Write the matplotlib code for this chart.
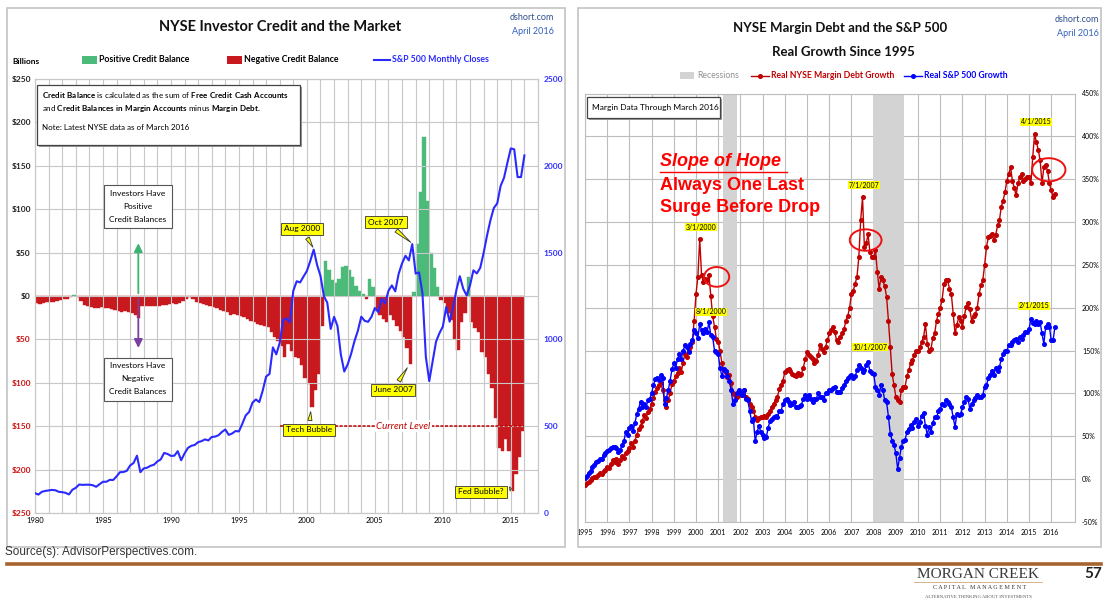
import numpy as np
import matplotlib
matplotlib.use("Agg")
import matplotlib.pyplot as plt
from matplotlib.patches import Rectangle, Ellipse
from matplotlib.lines import Line2D

plt.rcParams['font.family'] = ['Lato', 'DejaVu Sans']
plt.rcParams['mathtext.fontset'] = 'custom'
plt.rcParams['mathtext.rm'] = 'Lato'
plt.rcParams['mathtext.bf'] = 'Lato:bold'

# ---------------- DATA ----------------
# Left panel: quarterly samples from 1980 Q1 to 2015 Q4
credit_start = 1980.0
credit_balance = [
    -8, -9, -8, -7,       # 1980
    -7, -7, -6, -5,       # 1981
    -4, -3, -1, 1,        # 1982
    -1, -6, -10, -12,     # 1983
    -13, -14, -14, -13,   # 1984
    -14, -14, -15, -16,   # 1985
    -17, -18, -17, -19,   # 1986
    -20, -22, -25, -12,   # 1987
    -12, -11, -12, -11,   # 1988
    -11, -10, -10, -9,    # 1989
    -8, -9, -8, -6,       # 1990
    -3, -1, -4, -7,       # 1991
    -8, -9, -10, -12,     # 1992
    -13, -14, -16, -17,   # 1993
    -19, -22, -21, -22,   # 1994
    -23, -24, -27, -29,   # 1995
    -30, -32, -33, -34,   # 1996
    -36, -42, -47, -52,   # 1997
    -58, -70, -55, -63,   # 1998
    -70, -72, -80, -95,   # 1999
    -101, -128, -108, -90,  # 2000
    -35, 40, 30, 18,      # 2001
    15, 20, 33, 35,       # 2002
    30, 22, 12, 6,        # 2003
    2, -3, 20, 10,        # 2004
    -16, -22, -27, -30,   # 2005
    -22, -28, -35, -40,   # 2006
    -47, -60, -78, 5,     # 2007
    60, 120, 183, 110,    # 2008
    50, 32, 10, -5,       # 2009
    -8, -20, -28, -50,    # 2010
    -62, -30, -20, 22,    # 2011
    -30, -37, -42, -65,   # 2012
    -70, -90, -106, -140,   # 2013
    -175, -179, -165, -179,  # 2014
    -225, -205, -185, -155,  # 2015
]
sp500_closes = [
    114, 106, 122, 127,   # 1980
    130, 133, 131, 122,   # 1981
    120, 116, 107, 134,   # 1982
    145, 164, 162, 163,   # 1983
    163, 160, 151, 166,   # 1984
    180, 180, 191, 190,   # 1985
    211, 235, 236, 243,   # 1986
    274, 288, 330, 235,   # 1987
    257, 261, 272, 278,   # 1988
    297, 309, 346, 340,   # 1989
    329, 330, 356, 304,   # 1990
    343, 375, 387, 392,   # 1991
    408, 414, 424, 418,   # 1992
    438, 440, 448, 467,   # 1993
    481, 450, 458, 472,   # 1994
    470, 514, 562, 582,   # 1995
    636, 654, 639, 705,   # 1996
    786, 801, 954, 914,   # 1997
    980, 1112, 1120, 1098,  # 1998
    1280, 1335, 1328, 1362,  # 1999
    1394, 1452, 1517, 1429,  # 2000
    1366, 1249, 1211, 1060,  # 2001
    1130, 1077, 912, 815,    # 2002
    856, 916, 990, 1050,     # 2003
    1131, 1107, 1101, 1130,  # 2004
    1181, 1157, 1234, 1207,  # 2005
    1280, 1311, 1277, 1378,  # 2006
    1438, 1482, 1455, 1549,  # 2007
    1379, 1386, 1267, 900,   # 2008
    760, 873, 987, 1036,     # 2009
    1074, 1187, 1102, 1183,  # 2010
    1286, 1364, 1292, 1253,  # 2011
    1312, 1398, 1380, 1412,  # 2012
    1498, 1598, 1686, 1757,  # 2013
    1783, 1884, 1931, 2018,  # 2014
    2100, 2095, 1935, 1935,  # 2015
    2060,                    # 2016
]
left_year_labels = ['1980', '1985', '1990', '1995', '2000', '2005', '2010', '2015']
credit_tick_values = [250, 200, 150, 100, 50, 0, -50, -100, -150, -200, -250]
sp_tick_values = [0, 500, 1000, 1500, 2000, 2500]
current_level = -150

# Right panel: monthly, Jan 1995 - Mar 2016 (percent real growth)
growth_start = 1995.0
margin_debt_growth = [
    -7, -5, -3, -1, 1, 3, 2, 5, 7, 6, 9, 11,                      # 1995
    14, 13, 18, 22, 20, 24, 18, 22, 27, 25, 30, 33,               # 1996
    36, 42, 38, 45, 52, 58, 62, 68, 75, 71, 78, 82,               # 1997
    88, 95, 102, 106, 110, 112, 104, 92, 84, 92, 100, 111,        # 1998
    115, 120, 124, 130, 125, 136, 146, 142, 150, 154, 160, 185,   # 1999
    216, 236, 280, 238, 230, 234, 232, 238, 214, 190, 178, 164,   # 2000
    160, 150, 135, 127, 125, 119, 122, 112, 100, 98, 96, 98,      # 2001
    100, 98, 104, 96, 94, 88, 84, 80, 73, 69, 71, 73,             # 2002
    72, 74, 73, 76, 80, 84, 88, 92, 96, 105, 110, 115,            # 2003
    125, 127, 128, 126, 123, 122, 120, 124, 121, 123, 130, 140,   # 2004
    148, 145, 143, 140, 135, 138, 145, 156, 152, 148, 154, 162,   # 2005
    170, 174, 178, 172, 162, 160, 166, 170, 175, 185, 190, 200,   # 2006
    216, 220, 228, 236, 259, 302, 329, 271, 275, 286, 265, 259,   # 2007
    259, 267, 242, 222, 236, 232, 225, 213, 185, 154, 123, 110,   # 2008
    96, 92, 90, 104, 108, 108, 120, 127, 135, 139, 145, 150,      # 2009
    150, 154, 160, 166, 181, 158, 150, 152, 165, 170, 185, 193,   # 2010
    200, 209, 228, 232, 232, 222, 216, 193, 170, 180, 189, 185,   # 2011
    178, 190, 201, 205, 198, 185, 190, 193, 200, 216, 226, 232,   # 2012
    250, 271, 282, 284, 286, 279, 285, 296, 302, 318, 325, 335,   # 2013
    348, 356, 364, 348, 340, 331, 345, 352, 356, 348, 350, 352,   # 2014
    352, 345, 376, 403, 393, 384, 372, 345, 364, 366, 360, 345,   # 2015
    337, 329, 333,                                                # 2016
]
sp500_growth = [
    1, 4, 7, 10, 14, 17, 20, 21, 24, 24, 28, 30,                  # 1995
    33, 34, 36, 37, 38, 36, 32, 34, 40, 44, 55, 52,               # 1996
    60, 62, 56, 66, 76, 82, 90, 84, 88, 84, 92, 94,               # 1997
    100, 110, 117, 118, 116, 121, 118, 88, 95, 104, 115, 128,     # 1998
    135, 130, 140, 146, 140, 150, 156, 154, 148, 158, 162, 174,   # 1999
    170, 165, 181, 174, 170, 175, 172, 183, 168, 166, 150, 148,   # 2000
    146, 130, 120, 128, 126, 120, 115, 104, 88, 92, 100, 104,     # 2001
    100, 98, 104, 94, 92, 80, 68, 70, 44, 55, 62, 55,             # 2002
    52, 48, 49, 60, 68, 70, 72, 74, 72, 80, 80, 88,               # 2003
    92, 94, 90, 86, 88, 90, 84, 84, 85, 87, 94, 98,               # 2004
    94, 98, 94, 90, 94, 94, 100, 96, 96, 92, 100, 100,            # 2005
    104, 104, 106, 108, 102, 102, 102, 106, 110, 114, 118, 120,   # 2006
    122, 118, 120, 127, 133, 130, 125, 127, 133, 137, 126, 124,   # 2007
    123, 108, 104, 98, 110, 104, 92, 90, 73, 53, 45, 40,          # 2008
    30, 12, 25, 38, 45, 46, 55, 58, 63, 60, 67, 70,               # 2009
    62, 67, 74, 77, 62, 52, 61, 55, 66, 72, 72, 79,               # 2010
    82, 88, 87, 92, 90, 88, 84, 72, 61, 76, 75, 76,               # 2011
    84, 90, 96, 94, 82, 88, 92, 95, 98, 96, 96, 98,               # 2012
    108, 110, 118, 122, 126, 122, 130, 126, 131, 140, 146, 150,   # 2013
    150, 156, 156, 160, 162, 164, 160, 166, 164, 168, 172, 172,   # 2014
    175, 187, 182, 181, 185, 181, 183, 170, 158, 178, 181, 178,   # 2015
    162, 162, 178,                                                # 2016
]
recessions = [(2001.2, 2001.85), (2007.95, 2009.35)]
growth_tick_values = [-50, 0, 50, 100, 150, 200, 250, 300, 350, 400, 450]
right_year_labels = [str(y) for y in range(1995, 2017)]

# ---------------- FIGURE ----------------
W, H = 1107, 599
fig = plt.figure(figsize=(W / 100, H / 100), dpi=100)
fig.patch.set_facecolor('white')


def fpx(x, y):
    return (x / W, 1 - y / H)


def ftext(x, y, s, **kw):
    fx, fy = fpx(x, y)
    return fig.text(fx, fy, s, **kw)


def frect(x0, y0, x1, y1, **kw):
    r = Rectangle((x0 / W, 1 - y1 / H), (x1 - x0) / W, (y1 - y0) / H,
                  transform=fig.transFigure, **kw)
    fig.add_artist(r)
    return r


def fline(x0, y0, x1, y1, **kw):
    l = Line2D([x0 / W, x1 / W], [1 - y0 / H, 1 - y1 / H], transform=fig.transFigure, **kw)
    fig.add_artist(l)
    return l


# panel borders
frect(7, 8, 565, 547, fill=False, ec='#c4c4c4', lw=1.2)
frect(578, 8, 1101, 547, fill=False, ec='#c4c4c4', lw=1.2)

GRID = '#c8c8c8'
RED_BAR = '#c8191e'
GREEN_BAR = '#4cba78'
BLUE_LINE = '#2a2aff'
DSHORT = '#2f4f8f'

# ================= LEFT PANEL =================
ax = fig.add_axes([35 / W, 1 - 513 / H, 503 / W, 434 / H])
ax2 = ax.twinx()
cb = np.array(credit_balance, dtype=float)
t_left = credit_start + np.arange(len(cb)) / 4.0
colors = [GREEN_BAR if v > 0 else RED_BAR for v in cb]
ax.bar(t_left, cb, width=0.25, align='edge', color=colors, edgecolor=colors, lw=0.3, zorder=1)
ax.set_ylim(-250, 250)
ax.set_xticks(np.arange(1980, 2018, 1))
xlabels = [str(y) if str(y) in left_year_labels else '' for y in range(1980, 2018)]
ax.set_xticklabels(xlabels, fontsize=5.5)
ax.set_yticks(credit_tick_values)
ax.set_yticklabels(['$%d' % abs(v) for v in credit_tick_values], fontsize=6, fontweight='bold')
for lab, v in zip(ax.get_yticklabels(), credit_tick_values):
    lab.set_color('#d01010' if v < 0 else '#222222')
ax.tick_params(length=0, pad=3)
ax.set_axisbelow(False)
ax.grid(True, color=GRID, lw=0.8, zorder=2)
for s in ax.spines.values():
    s.set_color(GRID)
for s in ax2.spines.values():
    s.set_color(GRID)

sp = np.array(sp500_closes, dtype=float)
t_sp = credit_start + np.arange(len(sp)) / 4.0
ax2.plot(t_sp, sp, color=BLUE_LINE, lw=1.5, zorder=5)
ax2.set_ylim(0, 2500)
ax2.set_yticks(sp_tick_values)
ax2.set_yticklabels([str(v) for v in sp_tick_values], fontsize=6, color='#3030ff', fontweight='bold')
ax2.tick_params(length=0, pad=4)
ax.set_xlim(1980, 2017)

# current level line
ax.plot([1998.0, 2016.0], [current_level, current_level], color='#c00000', lw=1.1,
        ls=(0, (2, 1)), zorder=4)
ax.text(2007.1, current_level, 'Current Level', color='#c00000', fontsize=7, style='italic',
        ha='center', va='center', zorder=6,
        bbox=dict(boxstyle='square,pad=0.15', fc='white', ec='none'))

# callouts
callout_box = dict(boxstyle='square,pad=0.35', fc='#ffff00', ec='#333333', lw=0.6)
wedge = dict(arrowstyle='wedge,tail_width=0.5,shrink_factor=0.5', fc='#ffff00', ec='#333333', lw=0.6)


def callout(axis, s, xy, txy, fs=6):
    axis.annotate(s, xy=xy, xycoords='data', xytext=fpx(*txy), textcoords='figure fraction',
                  ha='center', va='center', fontsize=fs, bbox=callout_box, arrowprops=wedge,
                  annotation_clip=False, zorder=10)


callout(ax2, 'Aug 2000', (2000.55, 1517), (302, 229))
callout(ax2, 'Oct 2007', (2007.8, 1549), (386, 222))
callout(ax, 'June 2007', (2007.5, -80), (393, 390))
callout(ax, 'Tech Bubble', (2000.3, -130), (309, 430))
callout(ax, 'Fed Bubble?', (2015.05, -222), (481, 492))

# left header
ftext(280, 27, 'NYSE Investor Credit and the Market', fontsize=10.5, fontweight='bold',
      ha='center', va='center', color='#111111')
ftext(554, 17, 'dshort.com', fontsize=6.5, ha='right', va='center', color=DSHORT)
ftext(554, 31, 'April 2016', fontsize=6.5, ha='right', va='center', color='#3060c0')
ftext(12, 62, 'Billions', fontsize=6, ha='left', va='center', fontweight='bold')
frect(82, 56, 97, 64, fc=GREEN_BAR, ec='none')
ftext(99, 60, 'Positive Credit Balance', fontsize=6.3, ha='left', va='center', fontweight='bold')
frect(227, 56, 242, 64, fc=RED_BAR, ec='none')
ftext(244, 60, 'Negative Credit Balance', fontsize=6.3, ha='left', va='center', fontweight='bold')
fline(374, 60, 390, 60, color=BLUE_LINE, lw=1.5)
ftext(392, 60, 'S&P 500 Monthly Closes', fontsize=6.3, ha='left', va='center',
      fontweight='bold', color='#2a2aff')

# info box
frect(39, 87, 302, 147, fc='#9a9a9a', ec='none', zorder=8)
frect(37, 85, 300, 145, fc='white', ec='#444444', lw=0.9, zorder=9)
ftext(42, 95, r'$\mathbf{Credit\ Balance}$ is calculated as the sum of $\mathbf{Free\ Credit\ Cash\ Accounts}$',
      fontsize=5.8, ha='left', va='center', zorder=10)
ftext(42, 109, r'and $\mathbf{Credit\ Balances\ in\ Margin\ Accounts}$ minus $\mathbf{Margin\ Debt}$.',
      fontsize=5.8, ha='left', va='center', zorder=10)
ftext(42, 128, 'Note: Latest NYSE data as of March 2016', fontsize=5.8, ha='left', va='center',
      zorder=10)

# investors boxes and arrows
arrow_x = 1987.6
ax.annotate('', xy=(arrow_x, 64), xytext=(arrow_x, 0),
            arrowprops=dict(arrowstyle='-|>,head_length=0.5,head_width=0.25', color='#3cb371', lw=1.3),
            zorder=7)
ax.annotate('', xy=(arrow_x, -63), xytext=(arrow_x, 0),
            arrowprops=dict(arrowstyle='-|>,head_length=0.5,head_width=0.25', color='#7b3fa0', lw=1.3),
            zorder=7)
box_style = dict(boxstyle='square,pad=0.6', fc='white', ec='#555555', lw=0.8)
ftext(138, 207, 'Investors Have\nPositive\nCredit Balances', fontsize=6, ha='center', va='center',
      linespacing=2.0, bbox=box_style, zorder=10)
ftext(138, 379, 'Investors Have\nNegative\nCredit Balances', fontsize=6, ha='center', va='center',
      linespacing=2.0, bbox=box_style, zorder=10)

# ================= RIGHT PANEL =================
ax3 = fig.add_axes([585 / W, 1 - 522 / H, 490 / W, 428.5 / H])
md = np.array(margin_debt_growth, dtype=float)
sg = np.array(sp500_growth, dtype=float)
t_md = growth_start + np.arange(len(md)) / 12.0
t_sg = growth_start + np.arange(len(sg)) / 12.0
for r0, r1 in recessions:
    ax3.axvspan(r0, r1, color='#d3d3d3', lw=0, zorder=1)
ax3.plot(t_md, md, '-o', color='#c00000', ms=2.6, lw=1.0, mec='#c00000', zorder=4)
ax3.plot(t_sg, sg, '-o', color='#0000ff', ms=2.6, lw=1.0, mec='#0000ff', zorder=5)
ax3.set_xlim(1995, 2017.07)
ax3.set_ylim(-50, 450)
ax3.set_xticks(np.arange(1995, 2017, 1))
ax3.set_xticklabels(right_year_labels, fontsize=5)
ax3.set_yticks(growth_tick_values)
ax3.set_yticklabels(['%d%%' % v for v in growth_tick_values], fontsize=5)
ax3.yaxis.tick_right()
ax3.tick_params(length=0, pad=5)
ax3.grid(True, color='#bdbdbd', lw=0.8, zorder=2)
ax3.set_axisbelow(True)
for s in ax3.spines.values():
    s.set_color('#bdbdbd')

# ellipses
for (cx, cy, w, h) in [(2000.93, 236, 1.13, 23), (2007.64, 279, 1.43, 25), (2015.89, 361, 1.5, 27)]:
    ax3.add_patch(Ellipse((cx, cy), w, h, fill=False, ec='#ee1111', lw=1.4, zorder=7))

# yellow date labels
ylab = dict(boxstyle='square,pad=0.1', fc='#ffff00', ec='none')
for (s, x, y) in [('3/1/2000', 701, 227), ('8/1/2000', 711, 312), ('7/1/2007', 864, 185),
                  ('10/1/2007', 870, 347), ('4/1/2015', 1036, 122), ('2/1/2015', 1034, 306)]:
    ftext(x, y, s, fontsize=5, ha='center', va='center', bbox=ylab, zorder=9)

# slope of hope
ftext(660, 162, 'Slope of Hope', fontsize=13, ha='left', va='center', color='#ff0000',
      fontweight='bold', style='italic', family=['Liberation Sans', 'DejaVu Sans'])
fline(660, 171.5, 787, 171.5, color='#ff0000', lw=1.0)
ftext(660, 185, 'Always One Last', fontsize=13, ha='left', va='center', color='#ff0000',
      fontweight='bold', family=['Liberation Sans', 'DejaVu Sans'])
ftext(660, 208, 'Surge Before Drop', fontsize=13, ha='left', va='center', color='#ff0000',
      fontweight='bold', family=['Liberation Sans', 'DejaVu Sans'])

# margin data box
frect(589, 99, 722, 120, fc='#9a9a9a', ec='none', zorder=8)
frect(587, 97, 720, 118, fc='white', ec='#444444', lw=0.9, zorder=9)
ftext(592, 107.5, 'Margin Data Through March 2016', fontsize=6, ha='left', va='center', zorder=10)

# right header
ftext(840, 28, 'NYSE Margin Debt and the S&P 500', fontsize=9.5, fontweight='bold',
      ha='center', va='center', color='#111111')
ftext(843, 52, 'Real Growth Since 1995', fontsize=9.5, fontweight='bold', ha='center',
      va='center', color='#111111')
ftext(1099, 19, 'dshort.com', fontsize=6.5, ha='right', va='center', color=DSHORT)
ftext(1099, 34, 'April 2016', fontsize=6.5, ha='right', va='center', color='#3060c0')
frect(680, 72, 694, 79, fc='#d3d3d3', ec='none')
ftext(697, 75.5, 'Recessions', fontsize=6.2, ha='left', va='center', color='#909090')
fline(751, 75.5, 769, 75.5, color='#c00000', lw=1.0)
fig.add_artist(Line2D([760 / W], [1 - 75.5 / H], transform=fig.transFigure, marker='o', ms=2.6,
                      color='#c00000'))
ftext(771, 75.5, 'Real NYSE Margin Debt Growth', fontsize=6.2, ha='left', va='center',
      color='#c00000', fontweight='bold')
fline(904, 75.5, 922, 75.5, color='#0000ff', lw=1.0)
fig.add_artist(Line2D([913 / W], [1 - 75.5 / H], transform=fig.transFigure, marker='o', ms=2.6,
                      color='#0000ff'))
ftext(924, 75.5, 'Real S&P 500 Growth', fontsize=6.2, ha='left', va='center',
      color='#0000ff', fontweight='bold')

# ================= FOOTER =================
ftext(5, 552, 'Source(s): AdvisorPerspectives.com.', fontsize=8.5, ha='left', va='center',
      color='#333333', family=['Liberation Sans', 'DejaVu Sans'])
fline(7, 564, 1101, 564, color='#a8642e', lw=2.6)
ftext(978, 575, 'MORGAN CREEK', fontsize=11, ha='center', va='center', color='#3a3a3a',
      family=['Liberation Serif', 'DejaVu Serif'])
fline(914, 582, 1042, 582, color='#d0a878', lw=0.6)
ftext(980, 587.5, 'C A P I T A L   M A N A G E M E N T', fontsize=4.4, ha='center', va='center',
      color='#3a3a3a', family=['Liberation Serif', 'DejaVu Serif'])
ftext(978, 596.5, 'ALTERNATIVE THINKING ABOUT INVESTMENTS', fontsize=3.4, ha='center', va='center',
      color='#555555', family=['Liberation Serif', 'DejaVu Serif'])
ftext(1093, 574, '57', fontsize=11, ha='center', va='center', color='#222222', fontweight='bold')

fig.savefig('out.png', dpi=100, facecolor='white')
